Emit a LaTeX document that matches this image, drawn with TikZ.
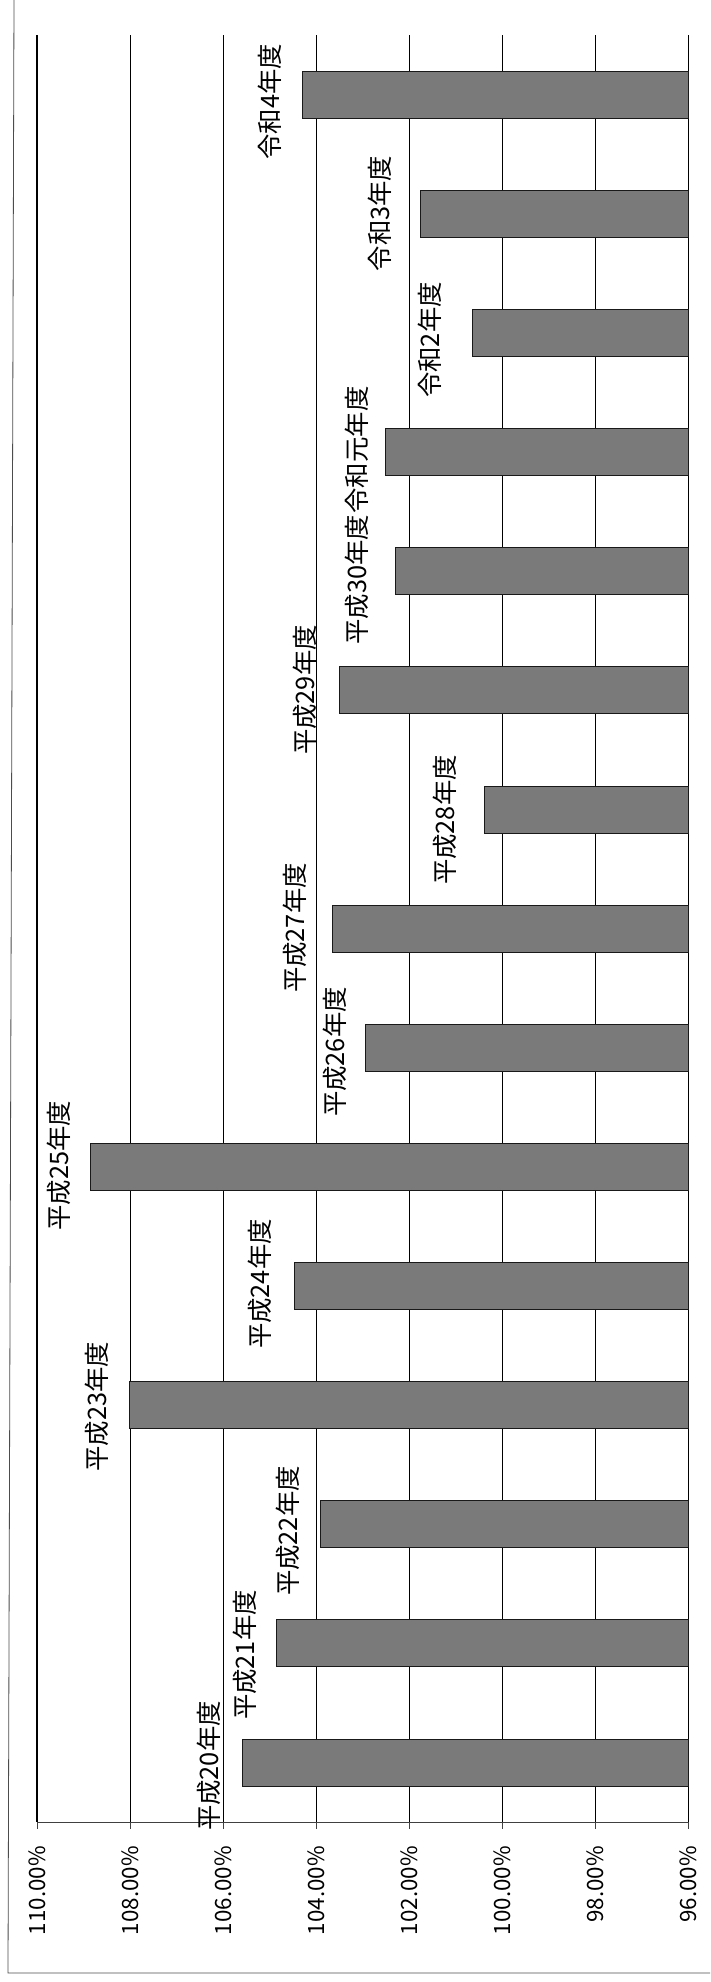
\documentclass[tikz,border=0pt]{standalone}
\usepackage{fontspec}
\newfontfamily\jpfont{Noto Sans CJK JP}
\usetikzlibrary{calc}
\def\ratebar(#1:#2){\draw[ratebox] ({37+(110-#1)*46.55}, #2-23.5) rectangle (688.7, #2+23.5);}
\tikzset{
	ratebox/.style={draw=black!90, fill=black!52, line width=0.9pt},
	gridrule/.style={black, line width=1.2pt},
	yearlabel/.style={rotate=90, inner sep=0pt, font=\jpfont\fontsize{25.4}{28}\selectfont},
	ticklabel/.style={rotate=90, inner sep=0pt, anchor=east, font=\jpfont\fontsize{22.4}{26}\selectfont},
}

\begin{document}
\begin{tikzpicture}[x=1pt, y=-1pt]
		%%%%% START %%%%%
		\useasboundingbox (0, 0) rectangle (710, 1982);
		\draw[black!70, line width=0.8pt] (14, 0) -- (8, 1973) -- (710, 1973);
		
		\draw[gridrule] (37, 35) -- (37, 1822);
		\draw[gridrule] (130.1, 35) -- (130.1, 1822);
		\draw[gridrule] (223.2, 35) -- (223.2, 1822);
		\draw[gridrule] (316.3, 35) -- (316.3, 1822);
		\draw[gridrule] (409.4, 35) -- (409.4, 1822);
		\draw[gridrule] (502.5, 35) -- (502.5, 1822);
		\draw[gridrule] (595.6, 35) -- (595.6, 1822);
		\draw[gridrule] (688.7, 35) -- (688.7, 1822);
		
		\draw[black!75, line width=0.9pt] (37, 1822) -- (688.7, 1822);
		\draw[black!75, line width=0.9pt] (37, 1822) -- (37, 1829);
		\draw[black!75, line width=0.9pt] (130.1, 1822) -- (130.1, 1829);
		\draw[black!75, line width=0.9pt] (223.2, 1822) -- (223.2, 1829);
		\draw[black!75, line width=0.9pt] (316.3, 1822) -- (316.3, 1829);
		\draw[black!75, line width=0.9pt] (409.4, 1822) -- (409.4, 1829);
		\draw[black!75, line width=0.9pt] (502.5, 1822) -- (502.5, 1829);
		\draw[black!75, line width=0.9pt] (595.6, 1822) -- (595.6, 1829);
		\draw[black!75, line width=0.9pt] (688.7, 1822) -- (688.7, 1829);
		
		\node[ticklabel] (t110) at (37, 1846) {110.00\%};
		\node[ticklabel] (t108) at (130.1, 1846) {108.00\%};
		\node[ticklabel] (t106) at (223.2, 1846) {106.00\%};
		\node[ticklabel] (t104) at (316.3, 1846) {104.00\%};
		\node[ticklabel] (t102) at (409.4, 1846) {102.00\%};
		\node[ticklabel] (t100) at (502.5, 1846) {100.00\%};
		\node[ticklabel] (t98) at (595.6, 1846) {98.00\%};
		\node[ticklabel] (t96) at (688.7, 1846) {96.00\%};
		
		\ratebar(105.59:1762.5)
		\ratebar(104.86:1643.4)
		\ratebar(103.91:1524.2)
		\ratebar(108.02:1405.1)
		\ratebar(104.46:1286.0)
		\ratebar(108.86:1166.9)
		\ratebar(102.95:1047.7)
		\ratebar(103.66:928.6)
		\ratebar(100.39:809.5)
		\ratebar(103.50:690.3)
		\ratebar(102.29:571.2)
		\ratebar(102.52:452.1)
		\ratebar(100.64:332.9)
		\ratebar(101.76:213.8)
		\ratebar(104.29:94.7)
		
		\node[yearlabel] (h20) at (209, 1766) {平成20年度};
		\node[yearlabel] (h21) at (245, 1655) {平成21年度};
		\node[yearlabel] (h22) at (288, 1531) {平成22年度};
		\node[yearlabel] (h23) at (96.7, 1406.7) {平成23年度};
		\node[yearlabel] (h24) at (260, 1284) {平成24年度};
		\node[yearlabel] (h25) at (58.7, 1165.7) {平成25年度};
		\node[yearlabel] (h26) at (334.7, 1052) {平成26年度};
		\node[yearlabel] (h27) at (295, 928) {平成27年度};
		\node[yearlabel] (h28) at (445, 820) {平成28年度};
		\node[yearlabel] (h29) at (305, 690) {平成29年度};
		\node[yearlabel] (h30) at (356.7, 579.5) {平成30年度};
		\node[yearlabel] (r1) at (356.7, 450) {令和元年度};
		\node[yearlabel] (r2) at (430, 340) {令和2年度};
		\node[yearlabel] (r3) at (380, 213.5) {令和3年度};
		\node[yearlabel] (r4) at (269.5, 101.7) {令和4年度};
		%%%%% END %%%%%
\end{tikzpicture}
\end{document}
